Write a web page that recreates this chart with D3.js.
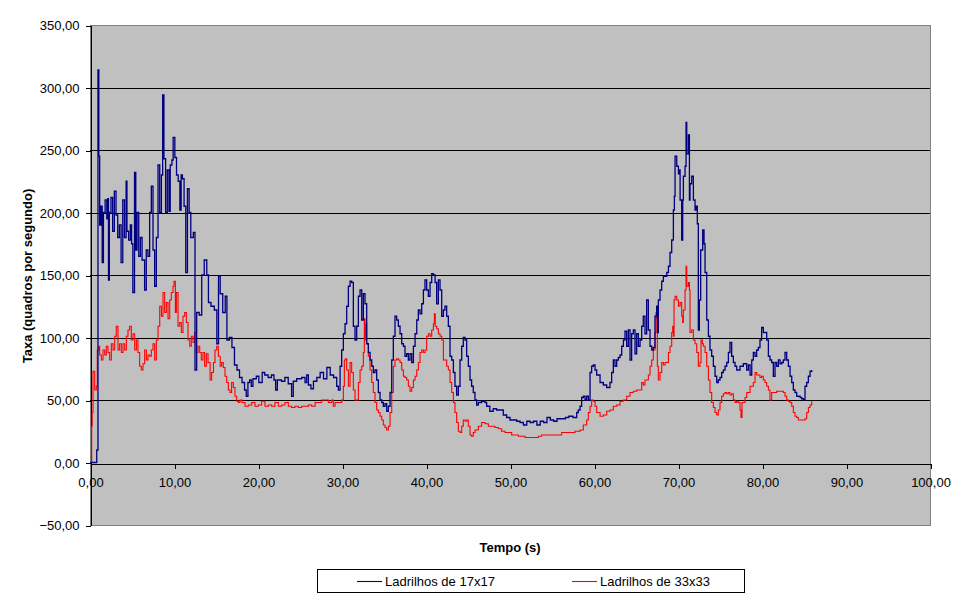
<!DOCTYPE html>
<html>
<head>
<meta charset="utf-8">
<script src="https://cdn.jsdelivr.net/npm/d3@7"></script>
<style>
  body { margin: 0; background: #fff; }
  text { font-family: "Liberation Sans", Arial, sans-serif; }
</style>
</head>
<body>
<div id="chart"></div>
<script>
const seriesNames = ["Ladrilhos de 17x17", "Ladrilhos de 33x33"];
const yTicks = [-50, 0, 50, 100, 150, 200, 250, 300, 350];
const xTicks = [0, 10, 20, 30, 40, 50, 60, 70, 80, 90, 100];
const xTitle = "Tempo (s)";
const yTitle = "Taxa (quadros por segundo)";

// [tempo, taxa]
const ladrilhos17 = [
  [0,0],[0.8,10],[0.95,314],[1.05,245],[1.15,190],[1.3,205],[1.45,160],[1.6,200],[1.8,210],[2.0,195],
  [2.1,211],[2.2,146],[2.3,200],[2.5,212],[2.7,185],[2.9,217],[3.1,198],[3.3,180],[3.5,190],[3.7,160],
  [3.9,210],[4.1,180],[4.3,225],[4.4,185],[4.6,178],[4.8,190],[4.95,175],[5.1,136],[5.3,232],[5.45,170],
  [5.6,200],[5.8,165],[6.0,180],[6.2,162],[6.5,138],[6.7,170],[6.9,165],[7.1,200],[7.3,221],[7.5,170],
  [7.7,141],[7.9,180],[8.1,238],[8.3,200],[8.5,230],[8.65,294],[8.8,243],[9.0,200],[9.2,234],[9.4,201],
  [9.55,238],[9.75,242],[9.9,260],[10.1,244],[10.3,230],[10.5,225],[10.7,202],[10.85,230],[11.0,227],[11.2,205],
  [11.4,152],[11.6,219],[11.8,200],[12.0,180],[12.3,184],[12.5,74],[12.7,120],[13.0,118],[13.3,150],[13.6,162],
  [13.9,150],[14.1,128],[14.4,125],[14.8,122],[15.1,95],[15.3,149],[15.5,135],[15.8,120],[16.1,133],[16.3,98],
  [16.6,100],[16.9,92],[17.2,78],[17.5,74],[17.8,68],[18.1,64],[18.4,58],[18.6,53],[18.8,64],[19.0,66],
  [19.2,61],[19.4,67],[19.8,69],[20.1,64],[20.5,72],[20.8,70],[21.2,68],[21.6,70],[21.9,66],[22.1,58],
  [22.3,66],[22.8,65],[23.2,68],[23.6,63],[24.0,53],[24.2,65],[24.6,67],[25.2,68],[25.6,64],[25.8,70],
  [26.0,62],[26.3,59],[26.6,65],[27.0,68],[27.4,72],[27.8,67],[28.2,76],[28.6,70],[29.0,68],[29.37,61],
  [29.57,58],[29.77,77],[29.96,90],[30.16,103],[30.36,111],[30.56,125],[30.76,141],[30.96,145],[31.15,144],[31.35,109],
  [31.55,98],[31.75,109],[31.95,133],[32.15,138],[32.35,114],[32.54,135],[32.74,127],[32.94,95],[33.14,88],[33.34,82],
  [33.54,77],[33.73,72],[33.93,74],[34.13,66],[34.33,56],[34.53,50],[34.73,48],[34.92,45],[35.12,47],[35.32,41],
  [35.52,45],[35.72,56],[35.92,82],[36.11,101],[36.31,117],[36.51,114],[36.71,109],[36.91,103],[37.11,95],[37.31,93],
  [37.5,85],[37.7,87],[37.9,82],[38.1,87],[38.3,80],[38.5,93],[38.7,103],[38.9,114],[39.09,122],[39.29,119],
  [39.49,127],[39.69,138],[39.88,146],[40.08,138],[40.28,133],[40.48,144],[40.68,151],[40.88,150],[41.08,144],[41.27,127],
  [41.47,146],[41.67,138],[41.87,117],[42.07,122],[42.26,125],[42.46,117],[42.66,109],[42.86,85],[43.06,82],[43.26,72],
  [43.45,61],[43.65,54],[43.85,61],[44.05,82],[44.25,93],[44.44,100],[44.64,98],[44.84,85],[45.04,77],[45.24,66],
  [45.43,61],[45.63,56],[45.83,50],[46.03,46],[46.23,48],[46.62,49],[47.02,48],[47.22,45],[47.6,41],[48.0,43],
  [48.4,42],[48.8,42],[49.2,38],[49.6,36],[50.0,34],[50.4,34],[50.8,33],[51.2,32],[51.6,30],[52.0,33],
  [52.4,32],[52.8,33],[53.2,30],[53.6,33],[54.0,32],[54.4,36],[54.8,34],[55.2,33],[55.6,35],[56.0,35],
  [56.6,36],[57.0,37],[57.5,36],[57.94,40],[58.14,42],[58.34,45],[58.53,52],[58.73,53],[58.93,50],[59.13,53],
  [59.33,50],[59.53,72],[59.72,77],[59.92,78],[60.12,74],[60.32,70],[60.72,64],[61.11,62],[61.51,60],[61.9,64],
  [62.1,72],[62.3,82],[62.5,77],[62.7,82],[62.9,84],[63.1,86],[63.3,93],[63.5,98],[63.69,105],[63.89,93],
  [64.09,106],[64.29,82],[64.48,103],[64.68,106],[64.88,87],[65.08,103],[65.28,93],[65.48,98],[65.68,109],[65.87,117],
  [66.07,103],[66.27,130],[66.47,106],[66.67,93],[66.87,90],[67.06,92],[67.26,117],[67.46,125],[67.57,104],[67.66,130],
  [67.86,138],[68.06,145],[68.26,149],[68.46,149],[68.66,152],[68.86,157],[69.05,168],[69.25,178],[69.45,202],[69.57,213],
  [69.65,245],[69.85,237],[70.05,231],[70.17,234],[70.25,210],[70.44,178],[70.56,210],[70.64,229],[70.84,237],[70.96,272],
  [71.04,247],[71.24,262],[71.36,210],[71.43,223],[71.63,229],[71.83,210],[72.03,202],[72.15,205],[72.3,191],[72.42,106],
  [72.54,130],[72.7,170],[72.94,186],[73.1,175],[73.22,152],[73.42,114],[73.62,101],[73.81,90],[74.01,85],[74.21,77],
  [74.41,69],[74.61,64],[74.8,66],[75.0,68],[75.2,72],[75.4,74],[75.6,77],[75.8,80],[76.0,88],[76.19,96],
  [76.39,85],[76.59,80],[76.79,77],[76.99,74],[77.38,77],[77.78,79],[78.18,74],[78.38,78],[78.58,70],[78.78,82],
  [78.97,88],[79.17,85],[79.37,90],[79.57,92],[79.76,98],[79.96,108],[80.16,104],[80.36,104],[80.56,98],[80.76,85],
  [80.95,82],[81.15,80],[81.35,69],[81.55,80],[81.75,77],[81.95,82],[82.15,79],[82.35,80],[82.54,82],[82.74,88],
  [82.94,82],[83.14,77],[83.34,69],[83.54,64],[83.73,58],[83.93,56],[84.13,53],[84.33,53],[84.53,52],[84.73,51],
  [84.93,50],[85.12,61],[85.32,64],[85.52,69],[85.72,73],[85.92,74]
];

const ladrilhos33 = [
  [0,0],[0.15,0],[0.2,29],[0.26,40],[0.36,73],[0.56,58],[0.75,61],[0.87,90],[1.03,93],[1.15,86],
  [1.35,82],[1.55,90],[1.75,86],[1.94,93],[2.14,88],[2.34,82],[2.54,95],[2.74,90],[2.94,101],[3.13,109],
  [3.33,90],[3.53,95],[3.73,88],[3.93,95],[4.13,90],[4.33,101],[4.52,106],[4.72,109],[4.92,98],[5.12,103],
  [5.32,90],[5.52,98],[5.71,88],[5.91,77],[6.11,74],[6.31,79],[6.51,90],[6.71,82],[6.9,86],[7.1,85],
  [7.3,90],[7.5,95],[7.7,82],[7.9,98],[8.1,109],[8.3,125],[8.5,117],[8.69,136],[8.89,120],[9.09,128],
  [9.29,115],[9.49,130],[9.68,136],[9.88,141],[10.0,145],[10.16,120],[10.28,136],[10.48,109],[10.68,112],[10.87,104],
  [11.07,117],[11.27,120],[11.47,112],[11.67,98],[11.87,93],[12.06,101],[12.26,96],[12.46,104],[12.66,88],[12.86,93],
  [13.06,88],[13.25,82],[13.45,88],[13.65,77],[13.85,87],[14.05,80],[14.3,66],[14.48,72],[14.7,80],[14.88,90],
  [15.08,93],[15.28,85],[15.5,77],[15.67,80],[15.87,76],[16.07,69],[16.27,64],[16.47,58],[16.67,56],[16.86,64],
  [17.06,60],[17.26,53],[17.46,49],[17.66,48],[17.86,50],[18.1,48],[18.45,45],[18.85,46],[19.25,48],[19.64,45],
  [20.04,46],[20.44,49],[20.83,45],[21.23,46],[21.63,45],[22.02,48],[22.42,45],[22.82,46],[23.21,48],[23.61,45],
  [24.0,44],[24.4,45],[24.8,44],[25.2,45],[25.6,45],[26.0,46],[26.4,45],[26.8,48],[27.19,48],[27.58,50],
  [27.98,50],[28.38,48],[28.78,50],[28.97,45],[29.17,48],[29.37,48],[29.77,48],[29.96,50],[30.16,61],[30.28,82],
  [30.44,83],[30.56,74],[30.76,61],[30.96,80],[31.15,72],[31.35,58],[31.55,50],[31.75,50],[31.95,64],[32.15,74],
  [32.35,77],[32.54,88],[32.66,115],[32.74,98],[32.82,111],[32.94,95],[33.14,85],[33.34,74],[33.54,64],[33.73,56],
  [33.93,48],[34.13,42],[34.33,40],[34.53,37],[34.73,34],[34.92,30],[35.12,28],[35.32,26],[35.52,29],[35.72,40],
  [35.92,56],[36.11,77],[36.31,82],[36.51,83],[36.71,82],[36.91,80],[37.11,74],[37.31,69],[37.5,68],[37.7,66],
  [37.9,61],[38.1,57],[38.3,60],[38.5,66],[38.7,69],[38.9,74],[39.09,80],[39.29,88],[39.49,90],[39.69,88],
  [39.88,90],[40.08,101],[40.28,103],[40.48,101],[40.68,106],[40.88,111],[41.0,119],[41.1,109],[41.27,107],[41.47,103],
  [41.67,101],[41.87,98],[42.07,82],[42.26,82],[42.46,77],[42.66,74],[42.86,64],[43.06,56],[43.26,48],[43.45,40],
  [43.65,32],[43.85,25],[44.05,24],[44.25,29],[44.44,34],[44.64,33],[44.84,34],[45.04,29],[45.24,22],[45.43,21],
  [45.63,24],[45.83,26],[46.23,29],[46.62,32],[47.02,31],[47.42,29],[47.81,29],[48.21,28],[48.61,27],[49.0,25],
  [49.4,24],[49.8,24],[50.2,22],[51.0,21],[51.8,20],[52.57,20],[53.37,21],[53.77,22],[54.56,22],[55.35,22],
  [56.15,24],[56.94,24],[57.74,25],[58.0,25],[58.34,26],[58.73,30],[59.13,34],[59.33,40],[59.53,45],[59.72,50],
  [59.92,49],[60.12,45],[60.32,40],[60.72,37],[61.11,38],[61.51,41],[61.9,42],[62.3,45],[62.7,46],[63.1,49],
  [63.5,50],[63.89,53],[64.29,56],[64.68,57],[65.08,58],[65.48,58],[65.68,64],[65.87,62],[66.07,66],[66.27,66],
  [66.47,70],[66.67,77],[66.87,82],[67.06,90],[67.26,104],[67.38,120],[67.46,115],[67.54,77],[67.66,66],[67.86,72],
  [68.06,80],[68.26,78],[68.46,80],[68.66,80],[68.86,88],[69.05,93],[69.25,104],[69.37,109],[69.45,101],[69.53,130],
  [69.65,133],[69.85,130],[70.05,125],[70.25,128],[70.44,117],[70.56,112],[70.64,122],[70.84,138],[70.96,157],[71.04,141],
  [71.24,144],[71.36,138],[71.43,104],[71.63,106],[71.83,98],[72.03,95],[72.23,88],[72.42,77],[72.62,80],[72.74,98],
  [72.9,95],[73.02,93],[73.22,88],[73.42,77],[73.62,66],[73.81,56],[74.01,48],[74.21,44],[74.41,40],[74.61,38],
  [74.8,42],[75.0,48],[75.2,53],[75.4,55],[75.6,56],[75.8,55],[76.0,56],[76.19,54],[76.39,55],[76.59,50],
  [76.79,48],[76.99,49],[77.19,48],[77.38,42],[77.5,36],[77.62,48],[77.78,48],[77.98,52],[78.18,56],[78.58,61],
  [78.97,64],[79.17,72],[79.37,70],[79.57,70],[79.76,68],[79.96,69],[80.16,66],[80.36,64],[80.56,61],[80.76,58],
  [80.95,50],[81.15,56],[81.35,56],[81.75,57],[82.15,57],[82.54,56],[82.74,53],[82.94,50],[83.14,49],[83.34,48],
  [83.54,45],[83.73,40],[83.93,37],[84.13,36],[84.33,34],[84.73,34],[85.12,35],[85.32,40],[85.52,44],[85.72,46],
  [85.92,49]
];

const series = [
  { name: seriesNames[0], values: ladrilhos17, color: "#000080", width: 1.3 },
  { name: seriesNames[1], values: ladrilhos33, color: "#ff0000", width: 1.1 }
];

const width = 966, height = 601;
const plot = { left: 90, top: 25, right: 930, bottom: 525 };
const fmt = v => d3.format(".2f")(v).replace(".", ",");

const x = d3.scaleLinear().domain([0, 100]).range([plot.left, plot.right]);
const y = d3.scaleLinear().domain([-50, 350]).range([plot.bottom, plot.top]);

const svg = d3.select("#chart").append("svg")
  .attr("width", width)
  .attr("height", height)
  .style("background", "#fff");

// plot area
svg.append("rect")
  .attr("x", plot.left + 0.5)
  .attr("y", plot.top + 0.5)
  .attr("width", plot.right - plot.left)
  .attr("height", plot.bottom - plot.top)
  .attr("fill", "#c0c0c0")
  .attr("stroke", "#808080");

// gridlines
svg.append("g")
  .selectAll("line")
  .data(yTicks.filter(v => v > 0 && v < 350))
  .join("line")
  .attr("x1", plot.left)
  .attr("x2", plot.right)
  .attr("y1", d => Math.round(y(d)) + 0.5)
  .attr("y2", d => Math.round(y(d)) + 0.5)
  .attr("stroke", "#000")
  .attr("shape-rendering", "crispEdges");

// y axis
svg.append("g")
  .attr("transform", `translate(${plot.left + 0.5},0.5)`)
  .call(d3.axisLeft(y).tickValues(yTicks).tickSize(5).tickSizeOuter(0).tickPadding(6).tickFormat(fmt))
  .call(g => g.attr("font-size", 13).attr("font-family", "Liberation Sans, Arial, sans-serif"))
  .call(g => g.selectAll("line, path").attr("stroke", "#000").attr("shape-rendering", "crispEdges"))
  .call(g => g.selectAll("text").attr("fill", "#000"));

// x axis sits on zero
svg.append("g")
  .attr("transform", `translate(0.5,${Math.round(y(0)) + 0.5})`)
  .call(d3.axisBottom(x).tickValues(xTicks).tickSize(5).tickSizeOuter(0).tickPadding(9).tickFormat(fmt))
  .call(g => g.attr("font-size", 13).attr("font-family", "Liberation Sans, Arial, sans-serif"))
  .call(g => g.selectAll("line, path").attr("stroke", "#000").attr("shape-rendering", "crispEdges"))
  .call(g => g.selectAll("text").attr("fill", "#000"));

// series
const line = d3.line()
  .x(d => x(d[0]))
  .y(d => y(d[1]))
  .curve(d3.curveStepAfter);

svg.append("g")
  .selectAll("path")
  .data(series.slice().reverse())
  .join("path")
  .attr("d", d => line(d.values))
  .attr("fill", "none")
  .attr("stroke", d => d.color)
  .attr("stroke-width", d => d.width);

// axis titles
svg.append("text")
  .attr("x", 510)
  .attr("y", 552)
  .attr("text-anchor", "middle")
  .attr("font-size", 13)
  .attr("font-weight", "bold")
  .text(xTitle);

svg.append("text")
  .attr("transform", "translate(32,276) rotate(-90)")
  .attr("text-anchor", "middle")
  .attr("font-size", 13)
  .attr("font-weight", "bold")
  .text(yTitle);

// legend
const legend = svg.append("g");
legend.append("rect")
  .attr("x", 317.5)
  .attr("y", 569.5)
  .attr("width", 427)
  .attr("height", 23)
  .attr("fill", "#fff")
  .attr("stroke", "#000");

const legendX = [357, 572];
const item = legend.selectAll("g.item")
  .data(series)
  .join("g")
  .attr("class", "item")
  .attr("transform", (d, i) => `translate(${legendX[i]},581)`);
item.append("line")
  .attr("x1", 0).attr("x2", 25)
  .attr("y1", 0.5).attr("y2", 0.5)
  .attr("stroke", d => d.color)
  .attr("stroke-width", 1.1);
item.append("text")
  .attr("x", 28)
  .attr("y", 5)
  .attr("font-size", 13)
  .text(d => d.name);
</script>
</body>
</html>
